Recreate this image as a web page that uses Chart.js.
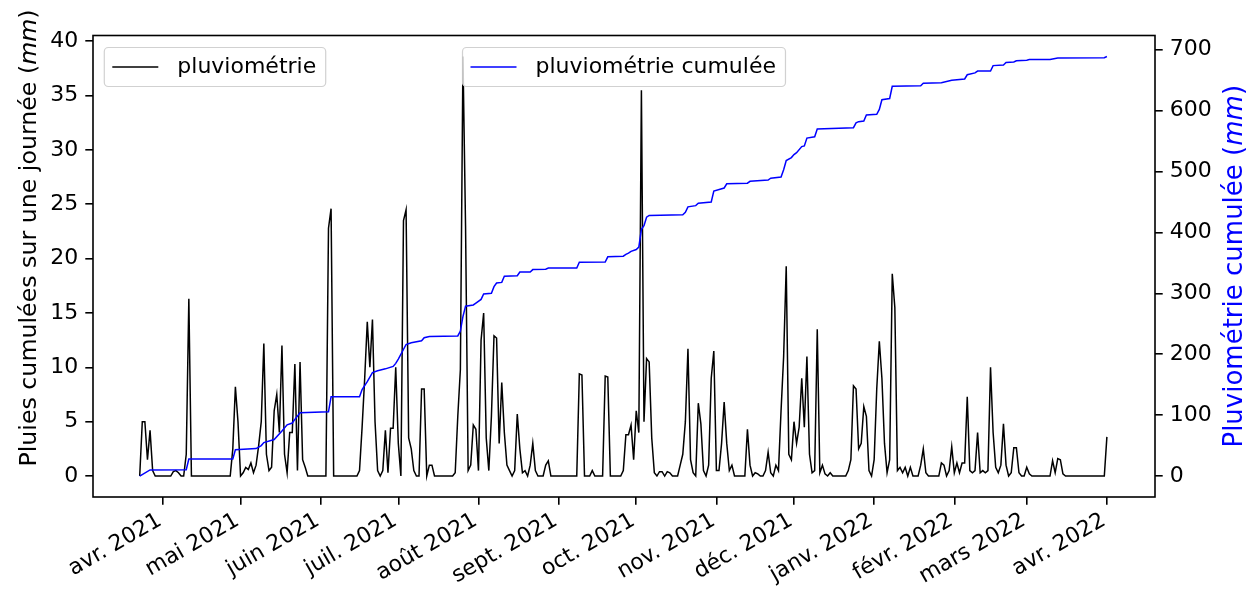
<!DOCTYPE html>
<html><head><meta charset="utf-8">
<script src="https://cdn.jsdelivr.net/npm/chart.js@4.4.0/dist/chart.umd.min.js"></script>
<style>html,body{margin:0;padding:0;background:#fff;}canvas{display:block;}</style>
</head><body>
<canvas id="c" width="1254" height="590"></canvas>
<script>
// ---- data ----
const startDate = '2021-03-23';
// daily value of rain accumulated over one day (mm), one value per day from startDate
const rainDaily = [
 0, 5.0, 5.0, 1.5, 4.2, 0.5, 0, 0, 0, 0,
 0, 0, 0, 0.4, 0.5, 0.3, 0, 0, 2.0, 16.3,
 0, 0, 0, 0, 0, 0, 0, 0, 0, 0,
 0, 0, 0, 0, 0, 0, 2.5, 8.2, 5.0, 0,
 0.3, 0.8, 0.6, 1.2, 0.3, 1.0, 2.8, 5.0, 12.2, 2.0,
 0.5, 0.8, 6.0, 7.5, 4.0, 12.0, 2.0, 0.3, 4.0, 4.0,
 10.3, 0.5, 10.5, 1.5, 0.8, 0, 0, 0, 0, 0,
 0, 0, 0, 22.8, 24.6, 0, 0, 0, 0, 0,
 0, 0, 0, 0, 0, 0.5, 4.5, 9.0, 14.2, 10.0,
 14.4, 5.0, 0.5, 0, 0.5, 4.2, 0.3, 4.4, 4.4, 10.0,
 3.0, 0, 23.5, 24.5, 3.5, 2.5, 0.5, 0, 0, 8.0,
 8.0, 0, 1.0, 1.0, 0, 0, 0, 0, 0, 0,
 0, 0, 0.3, 5.5, 9.8, 38.6, 23.0, 0.5, 1.0, 4.7,
 4.3, 0.5, 12.5, 15.0, 3.5, 0.5, 5.5, 12.9, 12.7, 3.0,
 8.6, 4.0, 1.0, 0.5, 0, 0.5, 5.7, 2.5, 0.3, 0.5,
 0, 1.0, 3.0, 0.5, 0, 0, 0, 1.0, 1.4, 0,
 0, 0, 0, 0, 0, 0, 0, 0, 0, 0,
 9.4, 9.3, 0, 0, 0, 0.5, 0, 0, 0, 0,
 9.2, 9.1, 0, 0, 0, 0, 0, 0.5, 3.8, 3.8,
 4.7, 1.5, 6.0, 4.0, 35.5, 5.0, 10.8, 10.5, 3.5, 0.3,
 0, 0.4, 0.4, 0, 0.4, 0.3, 0, 0, 0, 1.0,
 2.0, 5.0, 11.7, 1.5, 0.3, 0, 6.7, 4.8, 0.5, 0,
 1.0, 9.0, 11.5, 0.5, 0.5, 3.0, 6.8, 3.0, 0.5, 1.0,
 0, 0, 0, 0, 0, 4.3, 1.0, 0, 0.3, 0.2,
 0, 0, 0.5, 2.2, 0.3, 0, 1.0, 0.5, 6.0, 11.0,
 19.3, 2.0, 1.5, 5.0, 3.0, 4.5, 9.0, 4.5, 11.0, 2.0,
 0.3, 0.5, 13.5, 0.3, 1.0, 0.2, 0, 0.3, 0, 0,
 0, 0, 0, 0, 0.5, 1.5, 8.3, 8.0, 2.5, 3.0,
 6.4, 5.5, 0.5, 0, 1.5, 8.0, 12.4, 9.0, 3.0, 0.3,
 1.5, 18.6, 15.5, 0.5, 0.8, 0.3, 0.8, 0, 0.8, 0,
 0, 0, 1.0, 2.5, 0.3, 0, 0, 0, 0, 0,
 1.2, 1.0, 0, 0.5, 2.7, 0.3, 1.2, 0.3, 1.2, 1.2,
 7.3, 0.5, 0.3, 0.5, 4.0, 0.3, 0.5, 0.3, 0.5, 10.0,
 4.0, 0.8, 0.3, 1.0, 4.8, 1.0, 0, 0.3, 2.6, 2.6,
 0.3, 0, 0, 0.8, 0.2, 0, 0, 0, 0, 0,
 0, 0, 0, 1.4, 0.3, 1.6, 1.5, 0.2, 0, 0,
 0, 0, 0, 0, 0, 0, 0, 0, 0, 0,
 0, 0, 0, 0, 3.6
];
// cumulative rainfall (mm): day offset from startDate and value read at that day
const cumDays = [0,4,18,19,36,37,45,47,48,52,55,57,59,60,62,73,74,85,86,88,90,92,95,98,99,100,103,105,109,110,112,123,124,125,126,129,130,132,133,136,137,138,140,141,146,147,151,152,157,158,169,170,180,181,187,188,189,190,192,193,194,195,196,197,210,211,212,215,216,221,222,226,227,235,236,243,244,248,249,250,252,253,254,256,257,258,261,262,276,277,278,280,281,285,286,287,290,291,302,303,310,314,319,320,323,324,329,330,334,335,338,339,343,344,352,353,355,373,374];
const cumValues = [0,10,10.4,28,28,43,45,50,55,60,74,84,87,93,104,105.5,130,130,142,155,170,173,176,180,185,192,216,219,222,227,229,230,238,262,279,281,284,290,299,300,311,317,318,328,329,335,335,339,339.5,341.5,341.5,351,351.5,360,361,364,366,369,372,376,405,411,425,428,429,433,442,444,448,450,468,473,480,481,484,486,489,491,503,518,523,528,531,541,542,555,557,570,572,580,582,583,593,594,602,618,620,640,641,645,646,650,652,659,662,665,665,674,675,679,680,682,683,684,684,685,686.5,687,689];
const monthTickDates = ['2021-04-01','2021-05-01','2021-06-01','2021-07-01','2021-08-01','2021-09-01','2021-10-01','2021-11-01','2021-12-01','2022-01-01','2022-02-01','2022-03-01','2022-04-01'];
const monthTickLabels = ['avr. 2021','mai 2021','juin 2021','juil. 2021','août 2021','sept. 2021','oct. 2021','nov. 2021','déc. 2021','janv. 2022','févr. 2022','mars 2022','avr. 2022'];
const leftTicks = [0,5,10,15,20,25,30,35,40];
const rightTicks = [0,100,200,300,400,500,600,700];
const seriesNames = ['pluviométrie','pluviométrie cumulée'];
const leftTitle = ['Pluies cumulées sur une journée (', 'mm', ')'];
const rightTitle = ['Pluviométrie cumulée (', 'mm', ')'];

// ---- build ----
const DAY = 86400000;
const t0 = Date.parse(startDate + 'T00:00:00Z');
const monthTickDays = monthTickDates.map(d => Math.round((Date.parse(d + 'T00:00:00Z') - t0) / DAY));
const rainPoints = rainDaily.map((v, i) => ({x: i, y: v}));
const cumPoints = cumDays.map((d, i) => ({x: d, y: cumValues[i]}));

const FONT = 'DejaVu Sans';
const FS = 22;
const BLUE = '#0000ff';

function tickGrid() {
  return {drawOnChartArea: false, drawTicks: true, tickLength: 7.7, color: '#000', lineWidth: 1.6};
}

const decor = {
  id: 'decor',
  beforeDraw(chart) {
    const ctx = chart.ctx;
    ctx.save(); ctx.fillStyle = '#fff'; ctx.fillRect(0, 0, chart.width, chart.height); ctx.restore();
  },
  afterDraw(chart) {
    const ctx = chart.ctx, a = chart.chartArea;
    ctx.save();
    // frame
    ctx.strokeStyle = '#000'; ctx.lineWidth = 1.6;
    ctx.strokeRect(a.left, a.top, a.right - a.left, a.bottom - a.top);
    // legends
    ctx.font = FS + 'px "' + FONT + '"';
    const padL = 8, padR = 9.5, handle = 46, htp = 19, h = 39;
    const top = a.top + 12;
    const widthOf = text => padL + handle + htp + ctx.measureText(text).width + padR;
    function legend(x0, color, text) {
      const w = widthOf(text);
      ctx.beginPath();
      ctx.roundRect(x0, top, w, h, 4);
      ctx.fillStyle = 'rgba(255,255,255,0.8)'; ctx.fill();
      ctx.strokeStyle = 'rgba(204,204,204,0.9)'; ctx.lineWidth = 1.2; ctx.stroke();
      const ym = top + h / 2;
      ctx.beginPath(); ctx.moveTo(x0 + padL, ym); ctx.lineTo(x0 + padL + handle, ym);
      ctx.strokeStyle = color; ctx.lineWidth = 1.5; ctx.stroke();
      ctx.fillStyle = '#000'; ctx.textBaseline = 'middle'; ctx.textAlign = 'left';
      ctx.fillText(text, x0 + padL + handle + htp, ym);
    }
    legend(a.left + 11.3, '#000', seriesNames[0]);
    legend((a.left + a.right) / 2 - widthOf(seriesNames[1]) / 2, BLUE, seriesNames[1]);
    // axis titles
    function vtitle(parts, x, yc, color, size) {
      const fN = size + 'px "' + FONT + '"', fI = 'italic ' + size + 'px "' + FONT + '"';
      const fonts = [fN, fI, fN];
      let total = 0; const ws = parts.map((p, i) => { ctx.font = fonts[i]; const w = ctx.measureText(p).width; total += w; return w; });
      ctx.save(); ctx.translate(x, yc); ctx.rotate(-Math.PI / 2);
      ctx.fillStyle = color; ctx.textBaseline = 'alphabetic'; ctx.textAlign = 'left';
      let cx = -total / 2;
      parts.forEach((p, i) => { ctx.font = fonts[i]; ctx.fillText(p, cx, 0); cx += ws[i]; });
      ctx.restore();
    }
    vtitle(leftTitle, 36, 238, '#000', 23.7);
    vtitle(rightTitle, 1242, (a.top + a.bottom) / 2, BLUE, 26);
    ctx.restore();
  }
};

new Chart(document.getElementById('c'), {
  type: 'line',
  data: {
    datasets: [
      {label: seriesNames[1], data: cumPoints, yAxisID: 'y2', borderColor: BLUE, borderWidth: 1.5, pointRadius: 0, tension: 0, order: 0, fill: false},
      {label: seriesNames[0], data: rainPoints, yAxisID: 'y', borderColor: '#000', borderWidth: 1.5, pointRadius: 0, tension: 0, order: 1, fill: false}
    ]
  },
  options: {
    responsive: false, animation: false, devicePixelRatio: 1,
    layout: {padding: {top: 35.5, left: 0, right: 0, bottom: 0}},
    plugins: {legend: {display: false}, tooltip: {enabled: false}},
    scales: {
      x: {
        type: 'linear', position: 'bottom', min: -18.06, max: 392.6,
        afterBuildTicks: s => { s.ticks = monthTickDays.map(v => ({value: v})); },
        afterFit: s => { s.height = 93; },
        ticks: {autoSkip: false, minRotation: 30, maxRotation: 30, padding: 3, labelOffset: -3, color: '#000',
                font: {family: FONT, size: FS},
                callback: (v, i) => monthTickLabels[i]},
        grid: tickGrid(), border: {display: false}
      },
      y: {
        position: 'left', min: -1.93, max: 40.53,
        afterBuildTicks: s => { s.ticks = leftTicks.map(v => ({value: v})); },
        afterFit: s => { s.width = 93; },
        ticks: {padding: 7, color: '#000', font: {family: FONT, size: FS}},
        grid: tickGrid(), border: {display: false}
      },
      y2: {
        position: 'right', min: -34.45, max: 723.45,
        afterBuildTicks: s => { s.ticks = rightTicks.map(v => ({value: v})); },
        afterFit: s => { s.width = 99; },
        ticks: {padding: 7, color: '#000', font: {family: FONT, size: FS}},
        grid: tickGrid(), border: {display: false}
      }
    }
  },
  plugins: [decor]
});
</script>
</body></html>
